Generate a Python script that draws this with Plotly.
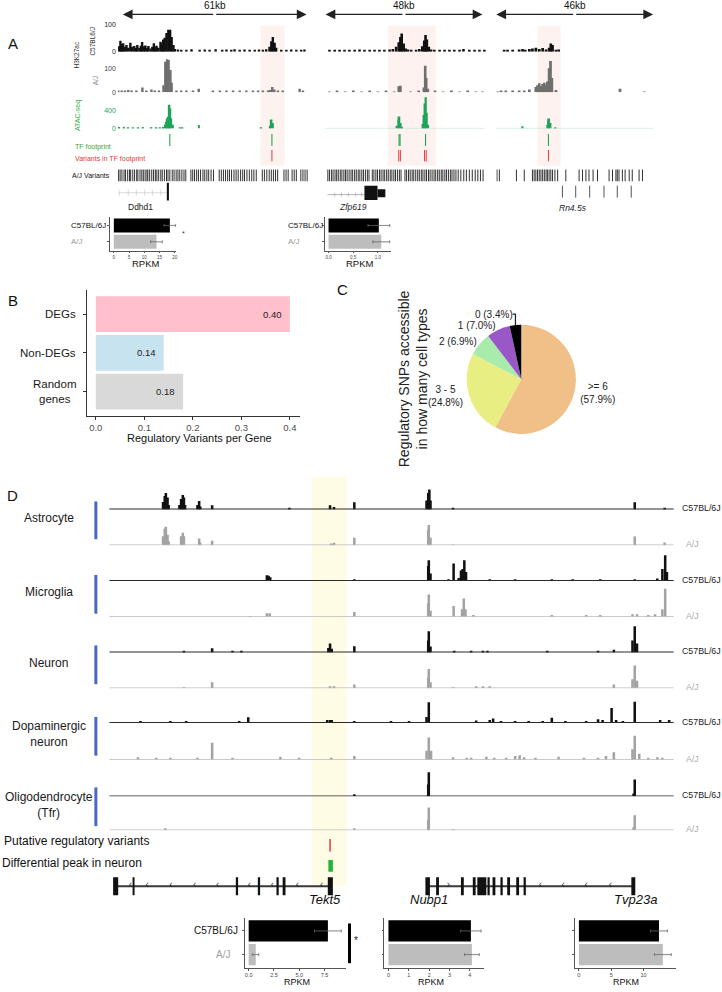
import plotly.graph_objects as go

W, H = 722, 992
FONT = "Liberation Sans, Arial, sans-serif"

# ============================ DATA ============================
strains = ["C57BL/6J", "A/J"]

# ---------------- Panel A : three loci (positions in kb) ----------------
locus_len_kb = [61, 48, 46]
locus_len_txt = ["61kb", "48kb", "46kb"]
locus_gene = ["Ddhd1", "<i>Zfp619</i>", "<i>Rn4.5s</i>"]

# locus 1 (Ddhd1)
l1_k27_b6_pos = [-1.2, -0.8, -0.4, 0.1, 0.6, 1.2, 1.8, 2.5, 3.1, 3.8, 4.3, 4.8, 5.5, 6.0, 6.4, 7.0, 7.5, 8.0, 8.5, 9.2,
                 9.8, 10.3, 10.8, 11.2, 11.8, 12.5, 13.0, 13.4, 13.9, 14.5, 15.1, 15.7, 16.2, 16.8, 17.3, 18.3, 19.4,
                 21.1, 22.8, 25.5, 27.2, 28.8, 30.8, 33.0, 34.4, 36.0, 37.1, 38.8, 40.4, 42.1, 43.8, 45.2, 46.5, 47.6,
                 48.7, 49.3, 49.8, 50.4, 50.9, 52.6, 54.3, 55.9, 57.6, 59.2, 60.3]
l1_k27_b6_val = [20, 41, 28, 31, 18, 25, 15, 33, 18, 21, 14, 25, 15, 22, 36, 20, 23, 14, 21, 12, 18, 31, 18, 22, 15,
                 37, 30, 45, 52, 70, 82, 82, 55, 25, 10, 8, 6, 7, 9, 6, 8, 7, 9, 6, 8, 7, 9, 6, 8, 7, 6, 8, 7, 9, 18,
                 39, 55, 33, 15, 7, 6, 8, 7, 6, 8]
l1_k27_aj_pos = [-1.5, -0.4, 0.7, 1.8, 2.9, 4.5, 6.5, 7.8, 9.5, 10.6, 12.0, 13.5, 14.1, 14.7, 15.2, 15.8, 16.2, 17.8,
                 19.4, 21.1, 23.3, 25.2, 29.9, 32.2, 34.4, 36.6, 38.8, 41.0, 43.2, 44.9, 46.5, 48.2, 48.9, 49.6, 50.3,
                 51.5, 53.1, 58.7, 59.8]
l1_k27_aj_val = [4, 8, 8, 10, 6, 8, 20, 8, 12, 8, 6, 30, 127, 137, 134, 93, 40, 8, 4, 6, 4, 15, 5, 4, 6, 4, 5, 4, 6,
                 4, 5, 4, 10, 22, 12, 6, 4, 15, 4]
l1_atac_pos = [-1.2, 0.3, 1.8, 3.4, 5.1, 6.7, 9.5, 11.2, 12.3, 13.4, 14.1, 14.5, 14.8, 15.1, 15.5, 15.8, 16.1, 16.6,
               18.9, 19.8, 25.2, 46.0, 48.9, 49.4, 49.8]
l1_atac_val = [30, 37, 22, 15, 22, 30, 15, 22, 22, 30, 80, 150, 220, 260, 530, 450, 220, 80, 22, 15, 74, 15, 60, 200,
               120]
l1_tf = [15.6, 49.5]
l1_var_tf = [49.5]
l1_snps = [-1.4, -0.9, -0.3, 0.4, 0.9, 1.6, 2.2, 2.6, 3.3, 3.9, 4.6, 5.0, 5.7, 6.3, 6.8, 7.4, 8.0, 8.3, 8.9, 9.6,
           10.2, 10.8, 11.3, 11.9, 12.6, 13.1, 13.8, 14.5, 15.0, 15.6, 16.4, 17.0, 17.7, 18.3, 18.9, 19.6, 20.3, 20.9,
           22.6, 23.2, 23.8, 24.5, 25.1, 25.8, 26.6, 27.2, 27.9, 28.5, 29.3, 30.1, 32.0, 32.7, 33.4, 34.1, 34.8, 35.4,
           36.1, 36.9, 37.6, 38.3, 39.1, 39.8, 40.4, 41.2, 42.0, 42.8, 43.5, 44.3, 46.3, 47.0, 47.8, 48.6, 49.3, 50.0,
           50.7, 51.4, 53.5, 54.2, 54.9, 56.2, 56.9, 57.6, 59.1, 59.8, 60.5, 61.2]
l1_highlight = [45.7, 53.7]
l1_gene_body = [-1.5, 14.6]
l1_gene_ticks = [-1.2, 1.8, 4.5, 7.3, 9.8, 12.6]
l1_exons_tall = [(14.6, 15.3)]
l1_exons_short = []

# locus 2 (Zfp619)
l2_k27_b6_pos = [1.2, 2.8, 4.3, 5.8, 7.3, 8.9, 10.4, 11.9, 13.5, 15.0, 16.5, 18.0, 19.6, 20.6, 21.6, 22.4, 22.9, 23.3,
                 23.9, 24.5, 25.2, 26.2, 27.7, 28.7, 29.6, 30.2, 30.6, 31.0, 31.6, 32.3, 33.3, 34.9, 36.4, 37.9, 39.4,
                 41.0, 42.2, 44.0, 45.6, 47.1, 48.6]
l2_k27_b6_val = [5, 6, 5, 7, 5, 6, 8, 5, 6, 5, 7, 6, 8, 10, 18, 35, 55, 68, 30, 12, 8, 5, 5, 10, 20, 42, 62, 45, 18, 8,
                 6, 5, 7, 5, 6, 5, 10, 5, 6, 5, 4]
l2_k27_aj_pos = [1.2, 3.5, 6.0, 8.5, 11.0, 13.5, 16.0, 18.5, 21.0, 22.4, 22.9, 26.0, 28.5, 30.1, 30.5, 30.8, 31.3, 33.5,
                 36.0, 38.5, 41.0, 43.5, 46.0, 48.0]
l2_k27_aj_val = [3, 4, 3, 4, 3, 4, 3, 4, 3, 25, 27, 3, 4, 20, 110, 60, 15, 4, 3, 4, 3, 4, 3, 3]
l2_atac_pos = [22.0, 22.4, 22.6, 23.0, 23.4, 29.8, 30.2, 30.5, 30.7, 31.0, 31.4]
l2_atac_val = [60, 200, 270, 120, 40, 100, 300, 560, 700, 350, 80]
l2_tf = [22.5, 22.8, 30.6]
l2_var_tf = [22.4, 22.9, 30.3, 30.8]
l2_snps = [0.7, 1.2, 1.8, 2.3, 2.9, 3.4, 3.9, 4.5, 5.0, 5.6, 6.1, 6.6, 7.2, 7.8, 8.3, 8.9, 9.4, 10.0, 10.5, 11.1, 11.6,
           12.2, 12.8, 13.3, 14.3, 14.8, 15.4, 15.9, 16.5, 17.0, 17.6, 18.1, 18.7, 19.2, 19.8, 20.3, 20.9, 21.4, 22.0,
           22.6, 23.1, 24.3, 24.8, 25.4, 25.9, 26.5, 27.0, 27.6, 28.2, 28.7, 29.3, 29.8, 30.4, 30.9, 31.5, 32.0, 32.6,
           33.2, 33.7, 34.3, 34.8, 35.4, 35.9, 36.5, 37.0, 37.6, 38.2, 38.7, 39.3, 39.9, 40.6, 41.4, 42.3, 43.1, 44.0,
           44.9, 45.8, 46.6, 47.4, 48.2]
l2_highlight = [19.1, 33.8]
l2_gene_body = [0.6, 11.9]
l2_gene_ticks = [2.8, 4.9, 7.0, 9.2, 11.0]
l2_exons_tall = [(11.9, 15.9)]
l2_exons_short = [(15.9, 18.3)]

# locus 3 (Rn4.5s)
l3_k27_b6_pos = [2.3, 3.3, 4.8, 6.7, 7.7, 8.5, 9.7, 10.6, 11.6, 12.6, 13.6, 14.6, 15.5, 16.0, 16.5, 17.5, 18.3]
l3_k27_b6_val = [5, 4, 6, 8, 10, 6, 10, 12, 15, 10, 14, 8, 15, 30, 25, 6, 8]
l3_k27_aj_pos = [0.4, 1.4, 2.8, 4.8, 6.7, 8.2, 9.7, 11.6, 12.1, 12.6, 13.1, 13.6, 14.1, 14.6, 15.0, 15.5, 15.9, 16.3,
                 17.5, 36.3, 43.4]
l3_k27_aj_val = [3, 4, 4, 4, 5, 5, 12, 22, 30, 38, 25, 35, 40, 30, 45, 100, 130, 60, 10, 15, 3]
l3_atac_pos = [7.7, 15.0, 15.3, 15.5, 15.9, 17.3]
l3_atac_val = [50, 80, 180, 220, 120, 20]
l3_tf = [15.3]
l3_var_tf = [15.3]
l3_snps = [0.2, 0.9, 5.9, 8.2, 10.6, 11.1, 11.6, 12.1, 12.6, 13.1, 13.6, 14.1, 14.6, 15.0, 15.5, 16.0, 16.5, 17.2,
           18.0, 20.4, 24.3, 25.3, 26.3, 27.2, 28.4, 29.7, 33.1, 34.1, 35.1, 35.5, 36.0, 37.0, 37.8, 39.0, 39.9,
           41.9, 42.9]
l3_highlight = [12.1, 18.9]
l3_gene_lines = [19.4, 23.3, 27.4, 31.6, 35.5, 39.6]

# expression (RPKM) in panel A
ddhd1_rpkm = [18.4, 14.0]
ddhd1_err = [1.9, 1.9]
zfp619_rpkm = [1.02, 1.07]
zfp619_err = [0.22, 0.17]

# ---------------- Panel B ----------------
b_groups = ["DEGs", "Non-DEGs", "Random<br>genes"]
b_values = [0.40, 0.14, 0.18]
b_ticks = [0.0, 0.1, 0.2, 0.3, 0.4]

# ---------------- Panel C ----------------
c_labels = [">= 6", "3 - 5", "2", "1", "0"]
c_pct = [57.9, 24.8, 6.9, 7.0, 3.4]

# ---------------- Panel D (positions in kb across the locus) ----------------
cell_types = ["Astrocyte", "Microglia", "Neuron", "Dopaminergic<br>neuron", "Oligodendrocyte<br>(Tfr)"]
d_astro_b6_pos = [9.5, 9.8, 10.0, 10.3, 10.5, 12.4, 12.7, 13.0, 13.2, 13.4, 15.6, 15.9, 16.1, 18.2, 31.9, 39.1, 39.8,
                  43.4, 56.2, 56.5, 56.7, 56.9, 60.9, 93.1, 98.4]
d_astro_b6_val = [25, 45, 55, 40, 15, 15, 35, 48, 40, 15, 15, 28, 10, 14, 3, 14, 8, 24, 30, 55, 67, 30, 3, 24, 3]
d_astro_aj_pos = [9.5, 9.8, 10.0, 10.3, 10.5, 12.7, 13.0, 13.2, 15.9, 16.1, 18.2, 39.3, 39.8, 43.4, 56.5, 56.6, 56.9,
                  60.9, 93.1, 98.4]
d_astro_aj_val = [30, 55, 62, 35, 12, 30, 42, 30, 22, 8, 15, 5, 8, 25, 50, 68, 25, 2, 29, 9]
d_micro_b6_pos = [13.2, 27.9, 28.2, 28.5, 43.4, 56.5, 56.6, 56.9, 60.1, 61.0, 61.9, 62.3, 62.6, 62.9, 63.2, 67.4,
                  71.9, 78.4, 82.1, 87.0, 93.1, 97.1, 98.0, 98.5, 98.8]
d_micro_b6_val = [2, 19, 17, 12, 3, 50, 69, 25, 3, 58, 10, 35, 40, 69, 30, 4, 4, 4, 4, 4, 4, 8, 40, 86, 30]
d_micro_aj_pos = [25.0, 27.9, 28.4, 43.4, 56.5, 56.6, 56.9, 61.0, 62.5, 62.8, 63.1, 64.5, 78.4, 84.5, 87.0, 92.7,
                  93.5, 95.5, 96.7, 98.0, 98.5]
d_micro_aj_val = [2, 11, 11, 16, 45, 74, 20, 36, 25, 61, 25, 4, 5, 5, 5, 8, 8, 5, 8, 25, 94]
d_neuron_b6_pos = [13.2, 18.2, 21.8, 23.4, 38.8, 39.1, 39.4, 43.4, 56.5, 56.6, 56.9, 61.1, 64.1, 66.2, 67.0, 77.6,
                   86.6, 89.4, 92.7, 93.1, 93.5]
d_neuron_b6_val = [5, 14, 3, 3, 15, 30, 12, 21, 40, 71, 20, 3, 3, 3, 3, 3, 3, 9, 40, 88, 30]
d_neuron_aj_pos = [13.2, 18.2, 39.1, 39.8, 43.4, 56.5, 56.6, 56.9, 60.9, 65.0, 66.2, 67.4, 89.4, 92.7, 93.1, 93.5]
d_neuron_aj_val = [2, 20, 5, 5, 12, 35, 64, 20, 2, 3, 4, 5, 12, 30, 76, 25]
d_dopa_b6_pos = [5.5, 10.8, 13.6, 23.0, 24.6, 38.6, 39.1, 39.4, 43.4, 49.9, 53.1, 56.2, 56.6, 65.0, 67.4, 68.0, 69.4,
                 71.9, 74.3, 76.8, 78.4, 80.8, 84.5, 86.6, 87.4, 89.0, 89.8, 91.0, 93.1, 97.6, 99.2]
d_dopa_b6_val = [4, 4, 4, 3, 19, 10, 10, 10, 5, 3, 3, 20, 69, 8, 10, 15, 3, 3, 3, 3, 17, 4, 4, 12, 10, 50, 10, 5, 71,
                 10, 10]
d_dopa_aj_pos = [5.05, 8.3, 10.8, 15.6, 18.2, 21.8, 30.3, 33.6, 39.3, 43.4, 56.2, 56.6, 57.0, 60.9, 63.3, 64.1, 66.8,
                 68.2, 70.3, 71.9, 72.7, 73.5, 75.5, 79.6, 84.1, 86.6, 88.0, 89.4, 92.7, 93.1, 93.9, 95.5, 97.1, 98.0]
d_dopa_aj_val = [8, 3, 3, 6, 57, 3, 10, 3, 3, 12, 30, 74, 30, 8, 6, 6, 10, 5, 6, 12, 15, 8, 5, 10, 4, 5, 12, 25, 35,
                 80, 20, 6, 8, 6]
d_oligo_b6_pos = [43.4, 56.5, 56.6, 92.9, 93.1]
d_oligo_b6_val = [7, 40, 81, 10, 57]
d_oligo_aj_pos = [9.9, 43.4, 56.5, 56.6, 60.9, 92.9, 93.1]
d_oligo_aj_val = [3, 3, 35, 76, 2, 10, 50]

d_highlight = [35.9, 42.0]
d_reg_variants = [39.1]
d_diff_peaks = [(38.8, 39.6)]
d_gene_spans = [(0.8, 39.4), (56.3, 93.0)]
d_exons = [(0.65, 1.55), (4.1, 4.45), (22.4, 22.8), (26.3, 26.7), (29.6, 30.0), (30.7, 31.2), (38.7, 39.6),
           (56.0, 56.8), (57.9, 58.4), (62.3, 62.8), (64.4, 64.9), (65.2, 66.8), (67.0, 67.4), (67.9, 68.4),
           (69.3, 69.7), (70.5, 71.0), (72.1, 72.6), (73.4, 73.8), (92.5, 93.2)]
d_minus_strand_marks = [3.7, 6.7, 10.9, 15.1, 19.2, 24.8, 28.9, 33.3, 37.6, 76.4, 80.4, 84.5, 88.8]
d_plus_strand_marks = [60.1]
d_gene_names = ["Tekt5", "Nubp1", "Tvp23a"]
d_gene_label_kb = [38.2, 56.6, 93.2]

tekt5_rpkm = [7.83, 0.7]
tekt5_err = [1.32, 0.3]
nubp1_rpkm = [4.05, 4.1]
nubp1_err = [0.5, 0.36]
tvp23a_rpkm = [12.4, 13.0]
tvp23a_err = [1.3, 1.3]

# ============================ BUILD ============================
fig = go.Figure()
LAY, SHAPES, ANNS = {}, [], []
_n = {"x": 0, "y": 0}


def new_axis(kind, **kw):
    _n[kind] += 1
    i = _n[kind]
    props = dict(showgrid=False, zeroline=False, visible=False, fixedrange=True)
    props.update(kw)
    LAY[f"{kind}axis" + ("" if i == 1 else str(i))] = props
    return kind + ("" if i == 1 else str(i))


def akey(name):
    return name[0] + "axis" + name[1:]


def X(p): return p / W
def Y(p): return 1 - p / H
def XD(a, b): return [a / W, b / W]
def YD(top, bot): return [1 - bot / H, 1 - top / H]


def label(x, y, s, size, color="#222", xref="paper", yref="paper", xanchor="center", yanchor="middle",
          angle=0, align="center", xshift=0, yshift=0):
    ANNS.append(dict(x=X(x) if xref == "paper" else x, y=Y(y) if yref == "paper" else y, xref=xref, yref=yref,
                     text=s, showarrow=False, xanchor=xanchor, yanchor=yanchor, textangle=angle, align=align,
                     xshift=xshift, yshift=yshift, font=dict(size=size, color=color, family=FONT)))


def signal(xn, top, bot, yr, pos, val, color, bw, ticks=None, tickcolor="#222"):
    kw = dict(domain=YD(top, bot), range=yr, anchor=xn)
    if ticks is not None:
        kw.update(visible=True, showline=False, ticks="", showticklabels=True, tickmode="array",
                  tickvals=ticks, ticktext=[str(t) for t in ticks],
                  tickfont=dict(size=7, color=tickcolor, family=FONT), ticklabelstandoff=1)
    yn = new_axis("y", **kw)
    fig.add_trace(go.Bar(x=pos, y=val, width=bw, marker=dict(color=color, line=dict(width=0)),
                         xaxis=xn, yaxis=yn, hoverinfo="skip", showlegend=False))
    return yn


def vlines(xn, yn, xs, y0, y1, color, w):
    xx, yy = [], []
    for p in xs:
        xx += [p, p, None]
        yy += [y0, y1, None]
    fig.add_trace(go.Scatter(x=xx, y=yy, mode="lines", line=dict(color=color, width=w), xaxis=xn, yaxis=yn,
                             hoverinfo="skip", showlegend=False))


def rect(xn, yn, x0, x1, y0, y1, color):
    SHAPES.append(dict(type="rect", xref=xn, yref=yn, x0=x0, x1=x1, y0=y0, y1=y1,
                       fillcolor=color, line=dict(width=0), layer="above"))


def rpkm_chart(xpx, xr, ypx, yr, vals, errs, tickvals, ticktext, tickfs, bw):
    axc = "#555"
    xn = new_axis("x", domain=XD(*xpx), range=xr, visible=True, showline=True, linecolor=axc, linewidth=0.8,
                  ticks="outside", ticklen=2, tickwidth=0.6, tickcolor=axc, tickmode="array", tickvals=tickvals,
                  ticktext=ticktext, tickfont=dict(size=tickfs, color="#444", family=FONT), ticklabelstandoff=0)
    yn = new_axis("y", domain=YD(*ypx), range=yr, type="category", categoryorder="array", categoryarray=strains,
                  visible=True, showline=True, linecolor=axc, linewidth=0.8, ticks="outside", ticklen=2,
                  tickwidth=0.6, tickcolor=axc, showticklabels=False)
    LAY[akey(xn)]["anchor"] = yn
    LAY[akey(yn)]["anchor"] = xn
    fig.add_trace(go.Bar(y=strains, x=vals, orientation="h", width=bw,
                         marker=dict(color=["#000000", "#BDBDBD"], line=dict(width=0)),
                         error_x=dict(type="data", array=errs, color="#666", thickness=0.8, width=1.5),
                         xaxis=xn, yaxis=yn, hoverinfo="skip", showlegend=False))
    return xn, yn


# ---------------------------- Panel A ----------------------------
A_cols = [((118, 310), (-1.66, 62.0)), ((326, 487), (0.0, 49.2)), ((497, 656), (0.0, 46.6))]
A_b6 = [(l1_k27_b6_pos, l1_k27_b6_val), (l2_k27_b6_pos, l2_k27_b6_val), (l3_k27_b6_pos, l3_k27_b6_val)]
A_aj = [(l1_k27_aj_pos, l1_k27_aj_val), (l2_k27_aj_pos, l2_k27_aj_val), (l3_k27_aj_pos, l3_k27_aj_val)]
A_atac = [(l1_atac_pos, l1_atac_val), (l2_atac_pos, l2_atac_val), (l3_atac_pos, l3_atac_val)]
A_tf = [l1_tf, l2_tf, l3_tf]
A_var = [l1_var_tf, l2_var_tf, l3_var_tf]
A_snp = [l1_snps, l2_snps, l3_snps]
A_hl = [l1_highlight, l2_highlight, l3_highlight]
GREEN = "#1FA35A"
A_axes = []

for i, ((pxr, kbr), b6, aj, at, tf, vr, sn, hl) in enumerate(zip(A_cols, A_b6, A_aj, A_atac, A_tf, A_var, A_snp, A_hl)):
    xn = new_axis("x", domain=XD(*pxr), range=list(kbr))
    A_axes.append(xn)
    first = i == 0
    y1 = signal(xn, 21, 48, [0, 100], b6[0], b6[1], "#111111", 0.8, [0, 100] if first else None)
    y2 = signal(xn, 55, 89, [0, 140], aj[0], aj[1], "#6F6F6F", 0.8, [0, 100] if first else None, "#444")
    y3 = signal(xn, 93, 125.3, [0, 720], at[0], at[1], GREEN, 0.55, [0, 400] if first else None, GREEN)
    LAY[akey(xn)]["anchor"] = y1
    if not first:
        SHAPES.append(dict(type="line", xref=f"{xn} domain", yref=y3, x0=0.0, x1=0.99, y0=0, y1=0,
                           line=dict(color="#A8DDBE", width=0.8), layer="above"))
    ya = new_axis("y", domain=YD(129, 200), range=[200, 129], anchor=xn)
    vlines(xn, ya, tf, 131, 143, "#22A84A", 1.1)
    vlines(xn, ya, vr, 147, 158.5, "#E8383D", 1.0)
    vlines(xn, ya, sn, 166.7, 178.5, "#1A1A1A", 0.9)
    # pink highlight of the variant-containing region
    SHAPES.append(dict(type="rect", xref=xn, yref="paper", x0=hl[0], x1=hl[1], y0=Y(163), y1=Y(22),
                       fillcolor="rgba(246,190,182,0.2)", line=dict(width=0), layer="below"))
    # scale arrow
    L = locus_len_kb[i]
    for end in (0, L):
        ANNS.append(dict(x=end, y=Y(10.5), ax=L / 2, ay=0, xref=xn, yref="paper", axref=xn, ayref="pixel",
                         text="", showarrow=True, arrowhead=2, arrowsize=1.5, arrowwidth=1.3, arrowcolor="#222",
                         standoff=0, startstandoff=0))
    ANNS.append(dict(x=L / 2, y=Y(9.5), xref=xn, yref="paper", text=locus_len_txt[i], showarrow=False,
                     yanchor="bottom", font=dict(size=10, color="#111", family=FONT)))
    # gene models
    if i == 0:
        fig.add_trace(go.Scatter(x=l1_gene_body, y=[190, 190], mode="lines", line=dict(color="#C8C8C8", width=0.6),
                                 xaxis=xn, yaxis=ya, hoverinfo="skip", showlegend=False))
        vlines(xn, ya, l1_gene_ticks, 187, 193, "#C0C0C0", 0.6)
        for s, e in l1_exons_tall:
            rect(xn, ya, s, e, 180, 198, "#111")
    elif i == 1:
        fig.add_trace(go.Scatter(x=l2_gene_body, y=[192, 192], mode="lines", line=dict(color="#A0A0A0", width=0.8),
                                 xaxis=xn, yaxis=ya, hoverinfo="skip", showlegend=False))
        vlines(xn, ya, l2_gene_ticks, 190, 194, "#A0A0A0", 0.6)
        for s, e in l2_exons_tall:
            rect(xn, ya, s, e, 183, 197.5, "#111")
        for s, e in l2_exons_short:
            rect(xn, ya, s, e, 186.5, 194.5, "#111")
    else:
        vlines(xn, ya, l3_gene_lines, 183, 195, "#555", 1.0)

# Panel A text
label(13, 40, "A", 15, "#111")
label(77, 51, "H3K27ac", 6.5, "#333", angle=-90)
label(93, 37, "C57BL6/J", 6.5, "#333", angle=-90)
label(96, 77, "A/J", 6.5, "#888", angle=-90)
label(78, 112, "ATAC-seq", 7, "#35B04A", angle=-90)
label(73, 143.7, "TF footprint", 7, "#35A83A", xanchor="left")
label(73, 156, "Variants in TF footprint", 7, "#E0393B", xanchor="left")
label(70, 173, "A/J Variants", 7, "#111", xanchor="left")
label(141, 204.5, locus_gene[0], 8.5, "#222")
label(353, 204.5, locus_gene[1], 8.5, "#222")
label(574, 205, locus_gene[2], 8.5, "#222")

# Panel A expression charts
xa1, ya1 = rpkm_chart((110, 176.7), [-1.31, 20.56], (214.3, 248.3), [1.533, -0.527], ddhd1_rpkm, ddhd1_err,
                      [0, 5, 10, 15, 20], ["0", "5", "10", "15", "20"], 4.5, 0.86)
xa2, ya2 = rpkm_chart((325, 391.7), [-0.081, 1.27], (214.3, 248.3), [1.533, -0.527], zfp619_rpkm, zfp619_err,
                      [0, 0.5, 1.0], ["0.0", "0.5", "1.0"], 4.5, 0.86)
for yn, xl in ((ya1, 69), (ya2, 286)):
    label(xl, strains[0], strains[0], 8, "#111", yref=yn, xanchor="left")
    label(xl, strains[1], strains[1], 8, "#9A9A9A", yref=yn, xanchor="left")
label(146.7, 261, "RPKM", 9.5, "#111")
label(360, 261, "RPKM", 9.5, "#111")
label(183.3, 231.5, "*", 7, "#333")

# ---------------------------- Panel B ----------------------------
xb = new_axis("x", domain=XD(86.7, 300), range=[-0.019, 0.42], visible=True, showline=True, linecolor="#333",
              linewidth=1, ticks="outside", ticklen=3, tickcolor="#333", tickmode="array", tickvals=b_ticks,
              ticktext=[f"{t:.1f}" for t in b_ticks], tickfont=dict(size=9.5, color="#4D4D4D", family=FONT))
yb = new_axis("y", domain=YD(288, 415), type="category", categoryorder="array", categoryarray=b_groups,
              range=[2.63, -0.62], visible=True, showline=True, linecolor="#333", linewidth=1, ticks="outside",
              ticklen=3, tickcolor="#333", showticklabels=False)
LAY[akey(xb)]["anchor"] = yb
LAY[akey(yb)]["anchor"] = xb
fig.add_trace(go.Bar(y=b_groups, x=b_values, orientation="h", width=0.92,
                     marker=dict(color=["#FFC0CB", "#C6E3EF", "#D9D9D9"], line=dict(width=0)),
                     xaxis=xb, yaxis=yb, hoverinfo="skip", showlegend=False))
for g, v in zip(b_groups, b_values):
    ANNS.append(dict(x=v, y=g, xref=xb, yref=yb, text=f"{v:.2f}", showarrow=False, xanchor="right", xshift=-6,
                     font=dict(size=9.5, color="#222", family=FONT)))
    label(78, g, g, 11.5, "#1A1A1A", yref=yb, xanchor="right", align="center")
label(200, 437, "Regulatory Variants per Gene", 11, "#111")
label(13, 299, "B", 15, "#111")

# ---------------------------- Panel C ----------------------------
c_text = [f"{l}<br>({p:.1f}%)" if p > 20 else f"{l} ({p:.1f}%)" for l, p in zip(c_labels, c_pct)]
fig.add_trace(go.Pie(values=c_pct, labels=c_labels, text=c_text, textinfo="text", textposition="outside",
                     sort=False, direction="clockwise", rotation=0,
                     marker=dict(colors=["#F0C088", "#E8EE82", "#A9EBAA", "#9957C7", "#000000"], line=dict(width=0)),
                     domain=dict(x=XD(467, 577), y=YD(323, 433)), textfont=dict(size=10, color="#222", family=FONT),
                     hoverinfo="skip", showlegend=False))
label(413.5, 377, "Regulatory SNPs accessible<br>in how many cell types", 14, "#222", angle=-90)
label(343, 288, "C", 15, "#111")

# ---------------------------- Panel D ----------------------------
xd = new_axis("x", domain=XD(109.6, 674.6), range=[0, 100])
D_tracks = [(d_astro_b6_pos, d_astro_b6_val), (d_astro_aj_pos, d_astro_aj_val),
            (d_micro_b6_pos, d_micro_b6_val), (d_micro_aj_pos, d_micro_aj_val),
            (d_neuron_b6_pos, d_neuron_b6_val), (d_neuron_aj_pos, d_neuron_aj_val),
            (d_dopa_b6_pos, d_dopa_b6_val), (d_dopa_aj_pos, d_dopa_aj_val),
            (d_oligo_b6_pos, d_oligo_b6_val), (d_oligo_aj_pos, d_oligo_aj_val)]
D_base = [509, 545, 581, 617, 653, 689, 724, 761, 798, 832]
first_yd = None
for k, ((pos, val), b) in enumerate(zip(D_tracks, D_base)):
    b6 = k % 2 == 0
    yn = signal(xd, b - 33, b, [0, 110], pos, val, "#111111" if b6 else "#A3A3A3", 0.45)
    if first_yd is None:
        first_yd = yn
    SHAPES.append(dict(type="line", xref=f"{xd} domain", yref=yn, x0=0, x1=1, y0=0, y1=0,
                       line=dict(color="#2A2A2A" if b6 else "#B8B8B8", width=1.6 if b6 else 1.4), layer="above"))
    if b6:
        label(680.6, 0, strains[0], 8.8, "#222", yref=yn, xanchor="left", yshift=1)
    else:
        label(693, 0, strains[1], 8.8, "#ABABAB", yref=yn, yshift=1)
LAY[akey(xd)]["anchor"] = first_yd

# yellow highlight
SHAPES.append(dict(type="rect", xref=xd, yref="paper", x0=d_highlight[0], x1=d_highlight[1], y0=Y(888), y1=Y(476),
                   fillcolor="rgba(252,242,150,0.25)", line=dict(width=0), layer="below"))

# cell type labels and blue brackets
cell_y = [(501, 539), (575, 614), (646, 685), (718, 757), (789, 828)]
for name, (t, bt) in zip(cell_types, cell_y):
    SHAPES.append(dict(type="line", xref="paper", yref="paper", x0=X(96), x1=X(96), y0=Y(bt), y1=Y(t),
                       line=dict(color="#4A67C2", width=3)))
    label(49, (t + bt) / 2 - 2, name, 12, "#1A1A1A")

# variant / differential peak / gene model rows
ydA = new_axis("y", domain=YD(836, 902), range=[902, 836], anchor=xd)
vlines(xd, ydA, d_reg_variants, 841, 853.5, "#E8383D", 1.5)
for s, e in d_diff_peaks:
    rect(xd, ydA, s, e, 862, 874, "#22B33A")
for s, e in d_gene_spans:
    fig.add_trace(go.Scatter(x=[s, e], y=[888.5, 888.5], mode="lines", line=dict(color="#3A3A3A", width=2),
                             xaxis=xd, yaxis=ydA, hoverinfo="skip", showlegend=False))
for s, e in d_exons:
    rect(xd, ydA, s, e, 879.5, 897.5, "#111")
fig.add_trace(go.Scatter(x=d_minus_strand_marks, y=[888] * len(d_minus_strand_marks), mode="text",
                         text=["‹"] * len(d_minus_strand_marks), textfont=dict(size=10, color="#222"),
                         xaxis=xd, yaxis=ydA, hoverinfo="skip", showlegend=False))
fig.add_trace(go.Scatter(x=d_plus_strand_marks, y=[888] * len(d_plus_strand_marks), mode="text",
                         text=["›"] * len(d_plus_strand_marks), textfont=dict(size=10, color="#222"),
                         xaxis=xd, yaxis=ydA, hoverinfo="skip", showlegend=False))
for g, kb in zip(d_gene_names, d_gene_label_kb):
    ANNS.append(dict(x=kb, y=Y(911), xref=xd, yref="paper", text=f"<i>{g}</i>", showarrow=False,
                     font=dict(size=13, color="#111", family=FONT)))
label(2, 843, "Putative regulatory variants", 12, "#111", xanchor="left")
label(0, 865, "Differential peak in neuron", 12, "#111", xanchor="left")
label(13, 495, "D", 15, "#111")

# expression charts in D
ybar = (920.5, 970.5)
yr_bar = [1.55, -0.545]
xt, yt = rpkm_chart((245, 346.7), [-0.395, 9.64], ybar, yr_bar, tekt5_rpkm, tekt5_err, [0, 2.5, 5, 7.5],
                    ["0.0", "2.5", "5.0", "7.5"], 5.5, 0.89)
xn1, yn1 = rpkm_chart((385, 485), [-0.196, 4.71], ybar, yr_bar, nubp1_rpkm, nubp1_err, [0, 1, 2, 3, 4],
                      ["0", "1", "2", "3", "4"], 5.5, 0.89)
xv, yv = rpkm_chart((575.7, 676.7), [-0.62, 15.0], ybar, yr_bar, tvp23a_rpkm, tvp23a_err, [0, 5, 10],
                    ["0", "5", "10"], 5.5, 0.89)
label(240, strains[0], strains[0], 10, "#111", yref=yt, xanchor="right")
label(223, strains[1], strains[1], 10, "#A0A0A0", yref=yt)
for xc in (297.5, 432, 626.7):
    label(xc, 992, "RPKM", 9, "#111", yanchor="bottom")
SHAPES.append(dict(type="line", xref="paper", yref="paper", x0=X(350), x1=X(350), y0=Y(966), y1=Y(926),
                   line=dict(color="#000", width=3)))
label(356.5, 943, "*", 10, "#222")

# ---------------------------- layout ----------------------------
fig.update_layout(**LAY)
fig.update_layout(width=W, height=H, margin=dict(l=0, r=0, t=0, b=0), paper_bgcolor="white",
                  plot_bgcolor="rgba(0,0,0,0)", barmode="overlay", showlegend=False,
                  font=dict(family=FONT, color="#222"), shapes=SHAPES, annotations=ANNS)
fig.write_html("out.html", config={"displayModeBar": False},
               post_script="document.body.style.margin='0';document.body.style.padding='0';")
